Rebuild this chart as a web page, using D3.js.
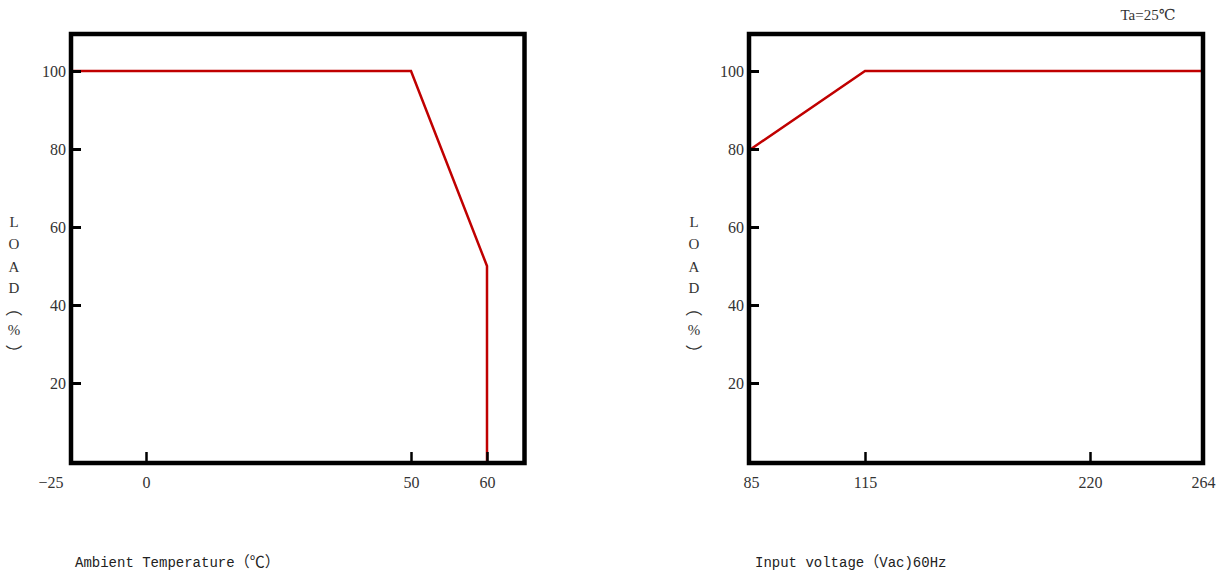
<!DOCTYPE html>
<html>
<head>
<meta charset="utf-8">
<script src="https://cdn.jsdelivr.net/npm/d3@7"></script>
<style>
  html, body { margin: 0; padding: 0; background: #fff; }
  svg { display: block; }
  .serif { font-family: "Liberation Serif", "DejaVu Serif", "Noto Sans CJK SC", serif; }
  .mono { font-family: "Liberation Mono", "DejaVu Sans Mono", "Noto Sans CJK SC", monospace; }
  .cjk { font-family: "Noto Sans CJK SC", "Noto Sans CJK JP", sans-serif; }
</style>
</head>
<body>
<svg id="chart" width="1224" height="574"></svg>
<script>
// ---- data ----
const tempX = [-25, 50, 60, 60];
const tempLoad = [100, 100, 50, 0];
const tempTicks = [-25, 0, 50, 60];
const tempBreaks = [-25, 0, 50, 60];

const voltX = [85, 115, 264];
const voltLoad = [80, 100, 100];
const voltTicks = [85, 115, 220, 264];
const voltBreaks = [85, 115, 220, 264];

const loadTicks = [20, 40, 60, 80, 100];
const loadDomain = [0, 110];

const yLabelChars = ["L", "O", "A", "D", "（", "%", "）"];
const tempTitle = "Ambient Temperature（℃）";
const voltTitle = "Input voltage（Vac)60Hz";
const noteText = "Ta=25℃";

// ---- layout ----
const svg = d3.select("#chart");
const RED = "#c00000";

function panel(opt) {
  const g = svg.append("g");
  const x = d3.scaleLinear().domain(opt.breaks).range(opt.range);
  const y = d3.scaleLinear().domain(loadDomain).range([461, 32]);

  // line
  const line = d3.line().x(d => x(d[0])).y(d => y(d[1]));
  g.append("path")
    .datum(opt.xs.map((v, i) => [v, opt.ys[i]]))
    .attr("d", line)
    .attr("fill", "none")
    .attr("stroke", RED)
    .attr("stroke-width", 2.5)
    .attr("stroke-linejoin", "miter");

  // y axis
  const ya = g.append("g").attr("transform", `translate(${opt.frame[0]},0)`)
    .call(d3.axisLeft(y).tickValues(loadTicks).tickSizeInner(-10).tickSizeOuter(0).tickPadding(5));
  ya.select(".domain").remove();
  ya.selectAll("line").attr("stroke", "#000").attr("stroke-width", 3);
  ya.selectAll("text").attr("class", "serif").attr("font-size", 16).attr("fill", "#333");

  // x axis
  const xa = g.append("g").attr("transform", `translate(0,${opt.frame[3]})`)
    .call(d3.axisBottom(x).tickValues(opt.ticks).tickSizeInner(-11).tickSizeOuter(0).tickPadding(14));
  xa.select(".domain").remove();
  xa.selectAll("line").attr("stroke", "#000").attr("stroke-width", 2.5);
  xa.selectAll(".tick").filter(d => x(d) < opt.frame[0] + 6 || x(d) > opt.frame[2] - 6)
    .select("line").remove();
  xa.selectAll("text").attr("class", "serif").attr("font-size", 16).attr("fill", "#333")
    .text(d => d < 0 ? "−" + Math.abs(d) : d);
  if (opt.firstEnd) {
    xa.selectAll(".tick").filter((d, i) => i === 0).select("text")
      .attr("text-anchor", "end").attr("dx", -10);
  }

  // frame
  g.append("rect")
    .attr("x", opt.frame[0]).attr("y", opt.frame[1])
    .attr("width", opt.frame[2] - opt.frame[0]).attr("height", opt.frame[3] - opt.frame[1])
    .attr("fill", "none").attr("stroke", "#000").attr("stroke-width", 4.5);

  // vertical y label (parentheses rotated to read vertically)
  const centers = [222, 244, 267, 288, 308, 330, 353];
  yLabelChars.forEach((c, i) => {
    const isParen = (c === "（" || c === "）");
    const t = g.append("text")
      .attr("class", isParen ? "cjk" : "serif")
      .attr("font-size", isParen ? 17 : 15)
      .attr("fill", "#333")
      .attr("text-anchor", "middle")
      .attr("dominant-baseline", "central")
      .text(c);
    if (isParen) {
      t.attr("transform", `translate(${opt.ylabX},${centers[i]}) rotate(90)`);
    } else {
      t.attr("x", opt.ylabX).attr("y", centers[i]);
    }
  });

  // bottom title (full-width chars via CJK font)
  const tt = g.append("text").attr("class", "mono").attr("font-size", 14).attr("fill", "#222")
    .attr("x", opt.titleX).attr("y", 567);
  const parts = opt.title.match(/[（）℃]|[^（）℃]+/g);
  parts.forEach(p => {
    const sp = tt.append("tspan").text(p);
    if (/[（）℃]/.test(p)) sp.attr("class", "cjk").attr("font-size", 15);
  });
}

panel({
  xs: tempX, ys: tempLoad, ticks: tempTicks, breaks: tempBreaks,
  range: [73, 146, 411, 487],
  frame: [71, 34, 524.5, 463],
  ylabX: 14, titleX: 75, title: tempTitle, firstEnd: true
});

panel({
  xs: voltX, ys: voltLoad, ticks: voltTicks, breaks: voltBreaks,
  range: [751, 865, 1090, 1203],
  frame: [749, 34, 1203, 463],
  ylabX: 694, titleX: 755, title: voltTitle, firstEnd: false
});

svg.append("text").attr("class", "serif").attr("font-size", 15).attr("fill", "#333")
  .attr("x", 1148).attr("y", 20).attr("text-anchor", "middle").text(noteText);
</script>
</body>
</html>
